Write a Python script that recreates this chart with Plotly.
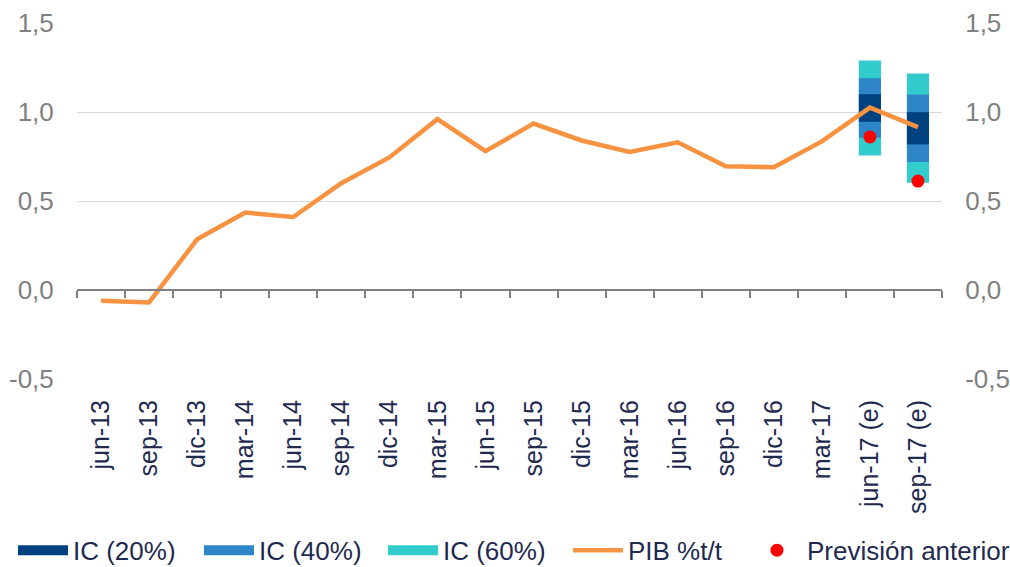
import plotly.graph_objects as go
import numpy as np

categories = ["jun-13", "sep-13", "dic-13", "mar-14", "jun-14", "sep-14", "dic-14",
              "mar-15", "jun-15", "sep-15", "dic-15", "mar-16", "jun-16", "sep-16",
              "dic-16", "mar-17", "jun-17 (e)", "sep-17 (e)"]
pib = [-0.06, -0.07, 0.285, 0.435, 0.41, 0.60, 0.745, 0.96, 0.78, 0.935, 0.84,
       0.775, 0.83, 0.695, 0.69, 0.835, 1.025, 0.915]

fc_categories = ["jun-17 (e)", "sep-17 (e)"]
ic20_low = [0.945, 0.818]
ic20_high = [1.10, 0.999]
ic40_low = [0.855, 0.719]
ic40_high = [1.19, 1.098]
ic60_low = [0.756, 0.603]
ic60_high = [1.29, 1.216]
prev_anterior = [0.86, 0.612]

y_ticks = [-0.5, 0.0, 0.5, 1.0, 1.5]
y_ticktext = [("%.1f" % v).replace(".", ",") for v in y_ticks]

C_DARK = "#00427f"
C_BLUE = "#2e86c9"
C_CYAN = "#33cccc"
C_LINE = "#f79240"
TXT = "#1f2a4f"
GRAY = "#808080"
FONT = "Liberation Sans, Arial, sans-serif"

fig = go.Figure()

def band(lo, hi, color, name):
    fig.add_trace(go.Bar(
        x=fc_categories, y=[h - l for l, h in zip(lo, hi)], base=lo,
        marker=dict(color=color, line=dict(width=0)), width=0.46, name=name,
        showlegend=False,
    ))

band(ic60_low, ic60_high, C_CYAN, "IC (60%)")
band(ic40_low, ic40_high, C_BLUE, "IC (40%)")
band(ic20_low, ic20_high, C_DARK, "IC (20%)")

# legend entries for the bands (wide rectangular keys)
for name, color, lw in [("IC (20%)", C_DARK, 121), ("IC (40%)", C_BLUE, 119),
                        ("IC (60%)", C_CYAN, None)]:
    fig.add_trace(go.Scatter(x=[None], y=[None], mode="lines", name=name,
                             line=dict(color=color, width=14), legend="legend",
                             legendwidth=lw))

fig.add_trace(go.Scatter(x=categories, y=pib, mode="lines", name="PIB %t/t",
                         line=dict(color=C_LINE, width=4.5), legend="legend2",
                         legendwidth=114))
fig.add_trace(go.Scatter(x=fc_categories, y=prev_anterior, mode="markers",
                         name="Previsión anterior", legend="legend2",
                         marker=dict(color="#ff0000", size=13)))
# invisible traces to activate secondary axes
fig.add_trace(go.Scatter(x=categories, y=pib, yaxis="y2", mode="lines",
                         line=dict(width=0, color="rgba(0,0,0,0)"),
                         showlegend=False, hoverinfo="skip"))
fig.add_trace(go.Scatter(x=list(range(len(categories))), y=pib, xaxis="x2", mode="lines",
                         line=dict(width=0, color="rgba(0,0,0,0)"),
                         showlegend=False, hoverinfo="skip"))

n = len(categories)
legend_common = dict(orientation="h", xanchor="left", y=-0.481, yanchor="middle",
                     font=dict(size=26, color=TXT), traceorder="normal",
                     itemwidth=50, tracegroupgap=0, bgcolor="rgba(0,0,0,0)")
fig.update_layout(
    width=1010, height=567,
    margin=dict(l=77, r=68, t=23, b=188, autoexpand=False),
    plot_bgcolor="white", paper_bgcolor="white",
    barmode="overlay",
    font=dict(family=FONT, size=25, color=TXT),
    showlegend=True,
    legend=dict(x=-0.074, **legend_common),
    legend2=dict(x=0.5676, **legend_common),
    xaxis=dict(type="category", categoryorder="array", categoryarray=categories,
               range=[-0.5, n - 0.5], showgrid=False, showline=False,
               ticks="outside", ticklen=10, tickcolor="rgba(0,0,0,0)",
               tickangle=-90, tickfont=dict(size=25, color=TXT), zeroline=False,
               automargin=False),
    xaxis2=dict(overlaying="x", anchor="free", position=0.25, type="linear",
                range=[-0.5, n - 0.5], tickmode="array",
                tickvals=list(np.arange(n + 1) - 0.5), ticks="outside", ticklen=7,
                tickcolor=GRAY, tickwidth=2, showline=True, linecolor=GRAY, linewidth=2,
                showticklabels=False, showgrid=False, zeroline=False, automargin=False),
    yaxis=dict(range=[-0.5, 1.5], tickmode="array", tickvals=y_ticks, ticktext=y_ticktext,
               showgrid=True, gridcolor="#d9d9d9", gridwidth=1, zeroline=False,
               showline=False, tickfont=dict(size=26, color=GRAY), ticks="outside",
               ticklen=17, tickcolor="rgba(0,0,0,0)", automargin=False),
    yaxis2=dict(overlaying="y", side="right", range=[-0.5, 1.5], tickmode="array",
                tickvals=y_ticks, ticktext=y_ticktext, showgrid=False, zeroline=False,
                showline=False, tickfont=dict(size=26, color=GRAY), ticks="outside",
                ticklen=17, tickcolor="rgba(0,0,0,0)", automargin=False),
)

fig.write_html(
    "out.html",
    config={"displayModeBar": False},
    post_script="document.body.style.margin='0';document.body.style.padding='0';"
                "document.body.style.overflow='hidden';"
                "document.documentElement.style.overflow='hidden';",
)
